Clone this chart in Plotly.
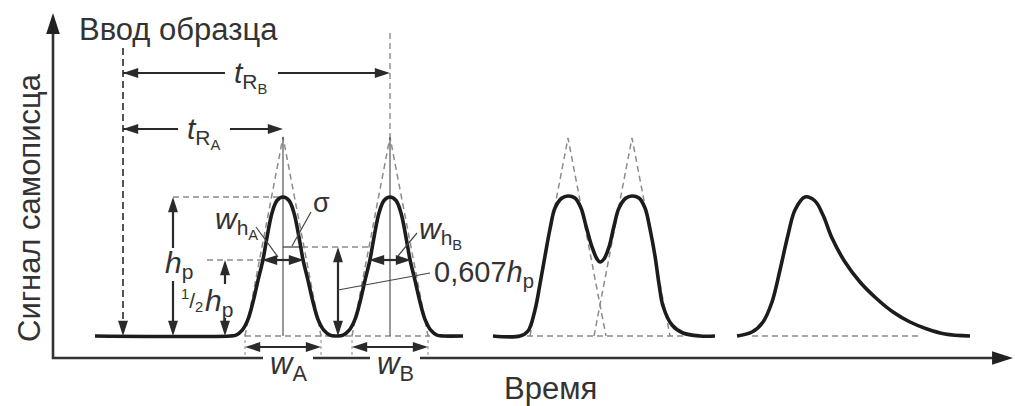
import numpy as np
import plotly.graph_objects as go

# ---------------- values (screen units, y downward) ----------------
axis_x = 53            # vertical axis position
axis_y = 358           # horizontal axis position
axis_tip_x = 1013
axis_tip_y = 13
baseline_y = 336
inject_x = 123
inject_top_y = 48
peaks_AB = [283, 390]          # retention positions of A and B
peak_height = 139              # h_p
apex_y = 137                   # apex of tangent triangles
base_half = 38                 # half of w (tangent intercepts)
span_AB = [95, 463]
# half-profile of peaks A/B: offset from apex, fraction of h_p
profile_u = [0, 6, 11, 16, 20, 25, 30, 35, 41, 47, 53]
profile_r = [1.0, 0.975, 0.885, 0.71, 0.55, 0.40, 0.245, 0.12, 0.04, 0.006, 0.0]
# partially resolved pair, read point by point
pair_peaks = [568, 632]
pair_apex_y = 138
pair_x = [493, 520, 528, 535, 540, 545, 550, 555, 562, 568, 575, 581, 586, 592, 597, 600,
          604, 609, 614, 619, 626, 632, 639, 645, 650, 655, 659, 663, 672, 683, 700, 715]
pair_y = [336, 336, 331, 310, 284, 256, 229, 208, 198, 196, 198, 208, 226, 247, 259, 262,
          259, 247, 226, 208, 198, 196, 198, 208, 229, 256, 284, 306, 325, 333, 336, 336]
# tailing peak, read point by point
tail_x = [737, 752, 763, 772, 780, 788, 795, 805, 815, 823, 832, 845, 860, 877, 893, 910, 927, 945, 970]
tail_y = [336, 332, 322, 302, 270, 235, 210, 197, 201, 215, 238, 262, 282, 299, 312, 322, 329, 334, 336]
half_level_y = 260             # 1/2 h_p level
inflect_level_y = 247          # 0.607 h_p level
half_edge_u = 21               # half width at 1/2 h_p
inflect_edge_u = 19            # half width at 0.607 h_p
tR_y = [129, 73]               # t_RA, t_RB arrow heights
wbase_y = 347                  # w_A, w_B arrows
hp_arrow_x = 173
half_arrow_x = 225
ratio_arrow_x = 338

INK = "#2a2a2a"
GREY = "#8c8c8c"
CURVE = "#1c1c1c"
FONT = "Liberation Sans, Arial, sans-serif"

fig = go.Figure()


def line(xs, ys, color=INK, width=2.0, dash="solid", shape="linear"):
    fig.add_trace(go.Scatter(x=xs, y=ys, mode="lines", hoverinfo="skip", showlegend=False,
                             line=dict(color=color, width=width, dash=dash, shape=shape)))


def heads(xs, ys, angles, size=16, color=INK):
    fig.add_trace(go.Scatter(x=xs, y=ys, mode="markers", hoverinfo="skip", showlegend=False,
                             marker=dict(symbol="arrow", size=size, angle=angles, color=color,
                                         line=dict(width=0))))


def text(x, y, s, size=31, xanchor="center", angle=0):
    fig.add_annotation(x=x, y=y, text=s, showarrow=False, xanchor=xanchor, yanchor="middle",
                       textangle=angle, font=dict(family=FONT, size=size, color="#333333"))


# ---------------- axes ----------------
line([axis_x, axis_x, axis_tip_x - 10], [axis_tip_y + 10, axis_y, axis_y], width=2.6, color="#333333")
heads([axis_x, axis_tip_x], [axis_tip_y, axis_y], [0, 90], size=22, color="#222222")

# ---------------- dashed construction lines (grey) ----------------
DASH = "6px,4px"
line([peaks_AB[0] - base_half, peaks_AB[1] + base_half + 2], [baseline_y] * 2, GREY, 1.6, DASH)
line([pair_peaks[0] - 41, pair_peaks[1] + 55], [baseline_y] * 2, GREY, 1.6, DASH)
line([tail_x[1], tail_x[-4] + 10], [baseline_y] * 2, GREY, 1.6, DASH)
for c in peaks_AB:
    line([c - base_half, c, c + base_half], [baseline_y, apex_y, baseline_y], GREY, 1.5, DASH)
for c in pair_peaks:
    line([c - base_half, c, c + base_half], [baseline_y, pair_apex_y, baseline_y], GREY, 1.5, DASH)
for c in peaks_AB:
    for e in (c - base_half, c + base_half):
        line([e, e], [baseline_y - 2, wbase_y + 9], GREY, 1.0, "3px,3px")
top_y = baseline_y - peak_height
line([hp_arrow_x, peaks_AB[0]], [top_y, top_y], GREY, 1.5, DASH)
line([half_arrow_x - 18, peaks_AB[0] - half_edge_u], [half_level_y] * 2, GREY, 1.5, DASH)
line([peaks_AB[0] + inflect_edge_u, peaks_AB[1] - inflect_edge_u], [inflect_level_y] * 2, GREY, 1.5, DASH)
line([peaks_AB[1], peaks_AB[1]], [33, apex_y], GREY, 1.4, DASH)

# thin solid verticals through A and B, sigma segment
for c in peaks_AB:
    line([c, c], [apex_y, baseline_y], "#555555", 1.2)
line([peaks_AB[0], peaks_AB[0] + inflect_edge_u], [inflect_level_y] * 2, "#444444", 1.3)

# injection marker (dark dashed with arrow)
line([inject_x, inject_x], [inject_top_y, baseline_y - 8], INK, 1.6, "7px,4px")
heads([inject_x], [baseline_y], [180], size=16)

# ---------------- chromatogram curves ----------------
ab_x, ab_y = [span_AB[0]], [baseline_y]
for c in peaks_AB:
    for u, r in list(zip(profile_u, profile_r))[::-1]:
        ab_x.append(c - u)
        ab_y.append(baseline_y - peak_height * r)
    for u, r in list(zip(profile_u, profile_r))[1:]:
        ab_x.append(c + u)
        ab_y.append(baseline_y - peak_height * r)
ab_x.append(span_AB[1])
ab_y.append(baseline_y)
line(ab_x, ab_y, CURVE, 3.6, shape="spline")
line(pair_x, pair_y, CURVE, 3.6, shape="spline")
line(tail_x, tail_y, CURVE, 3.6, shape="spline")

# ---------------- dimension arrows ----------------
line([inject_x, 225, None, 278, peaks_AB[1] - 8], [tR_y[1]] * 2 + [None] + [tR_y[1]] * 2, INK, 2.2)
line([inject_x, 178, None, 230, peaks_AB[0] - 8], [tR_y[0]] * 2 + [None] + [tR_y[0]] * 2, INK, 2.2)
heads([inject_x, peaks_AB[1], inject_x, peaks_AB[0]], [tR_y[1], tR_y[1], tR_y[0], tR_y[0]],
      [270, 90, 270, 90])
line([hp_arrow_x] * 2 + [None] + [hp_arrow_x] * 2, [top_y + 8, 248, None, 281, baseline_y - 8], INK, 2.2)
heads([hp_arrow_x, hp_arrow_x], [top_y, baseline_y], [0, 180])
line([half_arrow_x] * 2 + [None] + [half_arrow_x] * 2, [half_level_y + 8, 284, None, 318, baseline_y - 8], INK, 2.2)
heads([half_arrow_x, half_arrow_x], [half_level_y, baseline_y], [0, 180])
line([ratio_arrow_x] * 2, [inflect_level_y + 8, baseline_y - 8], INK, 2.2)
heads([ratio_arrow_x, ratio_arrow_x], [inflect_level_y, baseline_y], [0, 180])
for c in peaks_AB:
    line([c - half_edge_u + 8, c + half_edge_u - 8], [half_level_y] * 2, INK, 2.2)
    heads([c - half_edge_u, c + half_edge_u], [half_level_y] * 2, [270, 90])
for c in peaks_AB:
    line([c - base_half + 8, c + base_half - 8], [wbase_y] * 2, INK, 2.2)
    heads([c - base_half, c + base_half], [wbase_y] * 2, [270, 90])

# leader lines
line([256, 278], [227, 257], "#444444", 1.2)
line([311, 292], [212, 246], "#444444", 1.2)
line([417, 398], [233, 256], "#444444", 1.2)
line([ratio_arrow_x, 430], [290, 273], "#444444", 1.2)

# gaps in the time axis under the w labels
line([263, 313, None, 370, 420], [axis_y] * 2 + [None] + [axis_y] * 2, "white", 4)

# ---------------- labels ----------------
text(77, 29, "Ввод образца", xanchor="left")
text(29, 208, "Сигнал самописца", angle=-90)
text(550, 388, "Время")
text(251, 76, "<i>t</i><sub>R<sub>B</sub></sub>", size=30)
text(204, 132, "<i>t</i><sub>R<sub>A</sub></sub>", size=30)
text(179, 264, "<i>h</i><sub>p</sub>", size=30)
text(192, 300, "<sup>1</sup>/<sub>2</sub>", size=21)
text(219, 302, "<i>h</i><sub>p</sub>", size=30)
text(321, 203, "σ", size=27)
text(236, 222, "<i>w</i><sub>h<sub>A</sub></sub>", size=30)
text(440, 232, "<i>w</i><sub>h<sub>B</sub></sub>", size=30)
text(432, 274, "0,607<i>h</i><sub>p</sub>", size=29, xanchor="left")
text(288, 366, "<i>w</i><sub>A</sub>", size=31)
text(395, 366, "<i>w</i><sub>B</sub>", size=31)

fig.update_layout(width=1015, height=406, margin=dict(l=0, r=0, t=0, b=0),
                  paper_bgcolor="white", plot_bgcolor="white",
                  xaxis=dict(range=[0, 1015], visible=False, fixedrange=True),
                  yaxis=dict(range=[406, 0], visible=False, fixedrange=True))
fig.write_html("out.html", config={"displayModeBar": False, "staticPlot": True},
               post_script="document.body.style.margin='0px';")
